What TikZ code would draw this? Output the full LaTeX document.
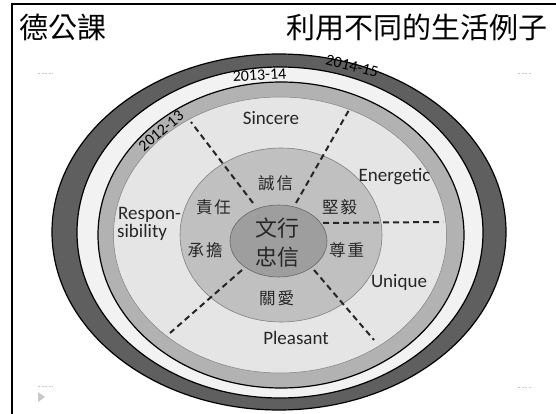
\documentclass[tikz,border=0pt]{standalone}
\usepackage{fontspec}
\setmainfont{Carlito}
\newfontfamily\cjk{Noto Sans CJK TC}
\definecolor{darkring}{RGB}{95,95,95}
\definecolor{whiteband}{RGB}{242,242,242}
\definecolor{grayband}{RGB}{178,178,178}
\definecolor{lightarea}{RGB}{229,229,229}
\definecolor{midring}{RGB}{192,192,192}
\definecolor{centerc}{RGB}{158,158,158}
\definecolor{faint}{RGB}{200,200,200}
\begin{document}
\begin{tikzpicture}[x=1pt,y=-1pt,
  lbl/.style={inner sep=0pt,font=\fontsize{19}{19}\selectfont,text=black!85},
  yearlbl/.style={inner sep=0pt,font=\fontsize{16}{16}\selectfont,text=black},
  cjklbl/.style={inner sep=0pt,font=\cjk\fontsize{16.5}{16.5}\selectfont,text=black!85},
  corelbl/.style={inner sep=0pt,font=\cjk\fontsize{22}{22}\selectfont,text=black!85},
  headlbl/.style={inner sep=0pt,font=\cjk\fontsize{29}{29}\selectfont,text=black},
  divider/.style={line width=2pt,dash pattern=on 6pt off 4pt,black!85},
  dots/.style={faint,line width=1pt,dash pattern=on 2pt off 1.5pt}]
\useasboundingbox (0,0) rectangle (556,414);
\fill[white] (0,0) rectangle (556,414);
% frame
\draw[line width=2pt] (12,414) -- (12,4.5) -- (556,4.5);
% header
\node[headlbl] (h1) at (63,27) {德公課};
\node[headlbl] (h2) at (416.5,27) {利用不同的生活例子};
% slide artifacts
\draw[dots] (38,74) -- (53,74);
\draw[dots] (518,74) -- (532,74);
\draw[dots] (38,386) -- (53,386);
\draw[dots] (518,387) -- (532,387);
\fill[faint] (38,392) -- (45,397) -- (38,402) -- cycle;
% rings
\draw[line width=1.2pt,fill=darkring] (279,232) ellipse [x radius=227pt,y radius=178pt];
\draw[line width=1.2pt,fill=whiteband] (280,232.5) ellipse [x radius=203pt,y radius=165.5pt];
\draw[line width=1.2pt,fill=grayband] (281,235) ellipse [x radius=183pt,y radius=153pt];
\draw[line width=0.5pt,draw=gray,fill=lightarea] (280,235) ellipse [x radius=166.5pt,y radius=138pt];
\draw[line width=0.6pt,draw=gray,fill=midring] (281,235) ellipse [x radius=101pt,y radius=87pt];
\draw[line width=0.6pt,draw=gray!80!black,fill=centerc] (278.5,241) ellipse [x radius=48.5pt,y radius=36pt];
% divider end points
\coordinate (a1) at (253,203); \coordinate (b1) at (191,122);
\coordinate (a2) at (296,203); \coordinate (b2) at (349,110);
\coordinate (a3) at (323,223); \coordinate (b3) at (443,222);
\coordinate (a4) at (314,270); \coordinate (b4) at (374,340);
\coordinate (a5) at (242,270); \coordinate (b5) at (170,333);
\draw[divider] (a1) -- (b1);
\draw[divider] (a2) -- (b2);
\draw[divider] (a3) -- (b3);
\draw[divider] (a4) -- (b4);
\draw[divider] (a5) -- (b5);
% year labels
\node[yearlbl,rotate=3] (y1314) at (259.5,75) {2013-14};
\node[yearlbl,rotate=-14] (y1415) at (352,66) {2014-15};
\node[yearlbl,rotate=40] (y1213) at (161,131) {2012-13};
% outer labels
\node[lbl] (sincere) at (271,118) {Sincere};
\node[lbl] (energetic) at (394.5,177) {Energetic};
\node[lbl] (unique) at (399,282) {Unique};
\node[lbl] (pleasant) at (296,338) {Pleasant};
\node[lbl,anchor=west] (respon) at (118,215) {Respon-};
\node[lbl,anchor=west] (sibility) at (117,232) {sibility};
% inner labels
\node[cjklbl] (c1) at (275.5,183) {誠\hspace{2pt}信};
\node[cjklbl] (c2) at (339.5,207) {堅\hspace{2pt}毅};
\node[cjklbl] (c3) at (346.5,250) {尊\hspace{2pt}重};
\node[cjklbl] (c4) at (276.5,298) {關\hspace{2pt}愛};
\node[cjklbl] (c5) at (205,250) {承\hspace{2pt}擔};
\node[cjklbl] (c6) at (213.5,207) {責\hspace{2pt}任};
% core
\node[corelbl] (core1) at (277.5,228) {文行};
\node[corelbl] (core2) at (277.5,257) {忠信};
\end{tikzpicture}
\end{document}
